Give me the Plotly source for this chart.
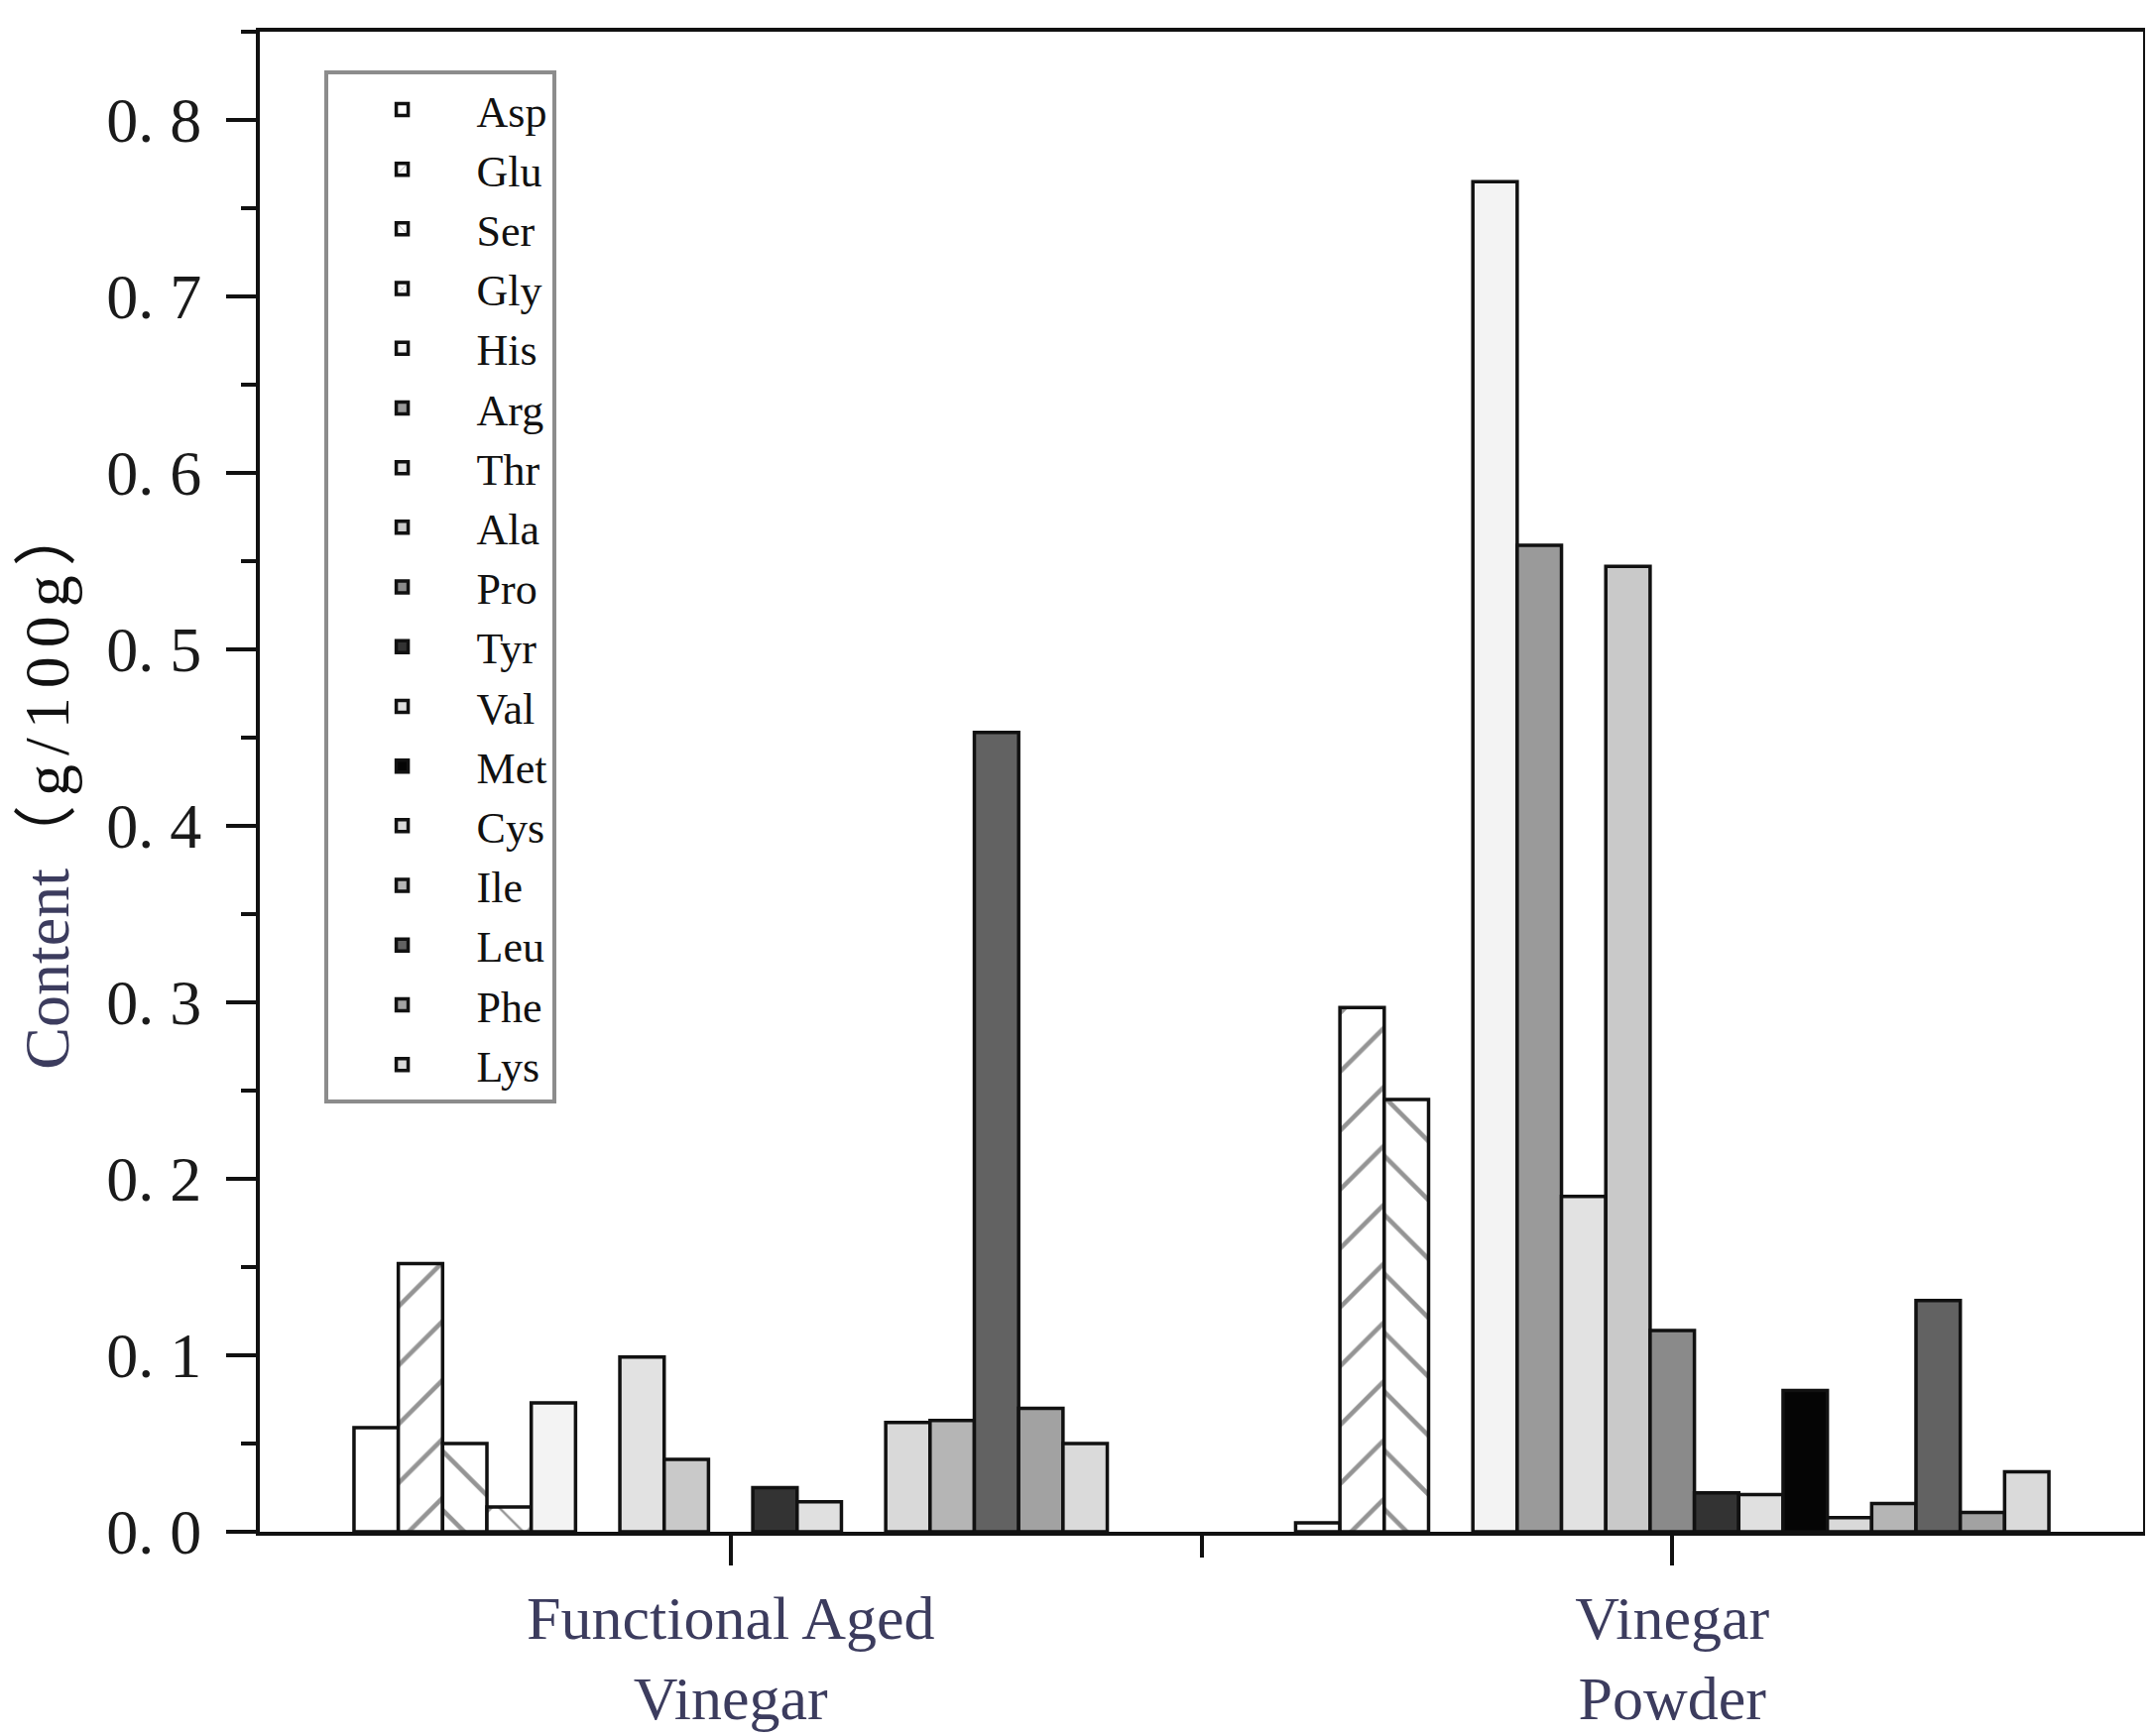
import plotly.graph_objects as go

# ---------------- data ----------------
groups = ["Functional Aged<br>Vinegar", "Vinegar<br>Powder"]
group_positions = [0, 1]
amino_acids = ["Asp", "Glu", "Ser", "Gly", "His", "Arg", "Thr", "Ala", "Pro",
               "Tyr", "Val", "Met", "Cys", "Ile", "Leu", "Phe", "Lys"]
functional_aged_vinegar = [0.059, 0.152, 0.050, 0.014, 0.073, None, 0.099, 0.041, None,
                           0.025, 0.017, None, 0.062, 0.063, 0.453, 0.070, 0.050]
vinegar_powder = [0.005, 0.297, 0.245, None, 0.765, 0.559, 0.190, 0.547, 0.114,
                  0.022, 0.021, 0.080, 0.008, 0.016, 0.131, 0.011, 0.034]
y_tick_values = [0.0, 0.1, 0.2, 0.3, 0.4, 0.5, 0.6, 0.7, 0.8]
y_tick_labels = ["0. 0", "0. 1", "0. 2", "0. 3", "0. 4", "0. 5", "0. 6", "0. 7", "0. 8"]

# ---------------- styles ----------------
fill_colors = ["#ffffff", "#ffffff", "#ffffff", "#ffffff", "#f3f3f3", "#9a9a9a",
               "#e2e2e2", "#c9c9c9", "#8a8a8a", "#333333", "#e0e0e0", "#050505",
               "#d9d9d9", "#b5b5b5", "#626262", "#a2a2a2", "#dadada"]
pattern_shapes = ["", "/", "\\", "x", "", "", "", "", "", "", "", "", "", "", "", "", ""]

label_color = "#3c3c5e"
serif = "Liberation Serif, Noto Sans CJK SC, serif"

fig = go.Figure()
for i, aa in enumerate(amino_acids):
    vals = [functional_aged_vinegar[i], vinegar_powder[i]]
    fig.add_trace(go.Bar(
        name=aa,
        x=group_positions,
        y=vals,
        marker=dict(
            color=fill_colors[i],
            line=dict(color="#111111", width=3.5),
            pattern=dict(shape=pattern_shapes[i], fgcolor="#2a2a2a",
                         bgcolor="#ffffff", size=42, solidity=0.11)
            if pattern_shapes[i] else None,
        ),
    ))

fig.update_layout(
    width=2171, height=1751,
    margin=dict(l=254, r=18, t=24, b=195),
    paper_bgcolor="white", plot_bgcolor="white",
    barmode="group", bargap=0.2, bargroupgap=0,
    font=dict(family=serif, color="#111111"),
    legend=dict(
        x=0.034, y=0.974, xanchor="left", yanchor="top",
        bgcolor="white", bordercolor="#8c8c8c", borderwidth=4,
        font=dict(family=serif, size=44, color="#111111"),
        itemwidth=140,
    ),
    showlegend=True,
)

fig.update_xaxes(
    range=[-0.5, 1.5],
    tickmode="array", tickvals=group_positions, ticktext=groups,
    ticks="outside", ticklen=30, tickwidth=4, tickcolor="#111111",
    minor=dict(tickmode="array", tickvals=[0.5], ticks="outside",
               ticklen=22, tickwidth=4, tickcolor="#111111"),
    tickfont=dict(family=serif, size=62, color=label_color),
    showline=True, linecolor="#111111", linewidth=4, mirror=True,
    showgrid=False, zeroline=False,
)

fig.update_yaxes(
    range=[0, 0.85],
    tickmode="array", tickvals=y_tick_values, ticktext=y_tick_labels,
    ticks="outside", ticklen=30, tickwidth=4, tickcolor="#111111",
    minor=dict(dtick=0.05, ticks="outside", ticklen=15, tickwidth=4,
               tickcolor="#111111"),
    tickfont=dict(family=serif, size=64, color="#1a1a1a"),
    ticklabelstandoff=12,
    showline=True, linecolor="#111111", linewidth=4, mirror=True,
    showgrid=False, zeroline=False,
    title=dict(
        text=("<span style='color:%s'>Content</span>"
              "<span style='letter-spacing:9px'>（g/100g）</span>") % label_color,
        font=dict(family=serif, size=64, color="#111111"),
        standoff=18,
    ),
)

fig.write_html("out.html")
